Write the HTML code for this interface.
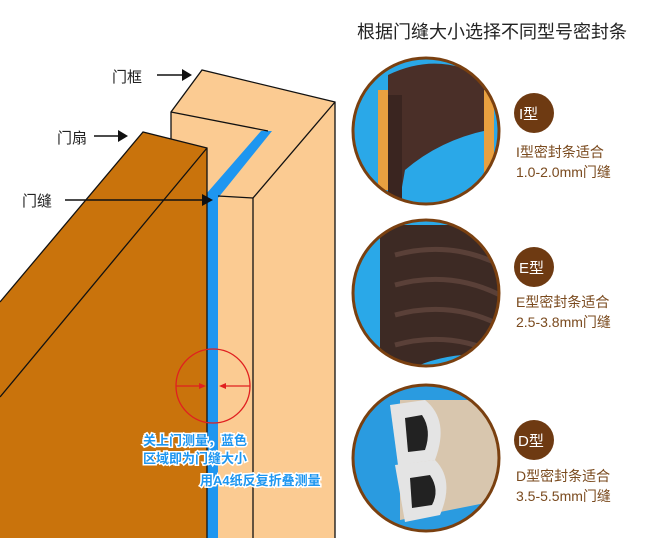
<!DOCTYPE html>
<html><head><meta charset="utf-8"><style>
html,body{margin:0;padding:0;background:#fff;}
svg{display:block;}
text{font-family:"Liberation Sans","Noto Sans CJK SC",sans-serif;}
</style></head><body>
<svg width="665" height="538" viewBox="0 0 665 538" xmlns="http://www.w3.org/2000/svg">
<defs>
<clipPath id="c1"><circle cx="426" cy="131" r="73"/></clipPath>
<clipPath id="c2"><circle cx="426" cy="293" r="73"/></clipPath>
<clipPath id="c3"><circle cx="426" cy="458" r="73"/></clipPath>
</defs>
<rect width="665" height="538" fill="#fff"/>
<polygon points="171,112 202,70 335,102 335,538 171,538" fill="#FBCB92"/>
<polygon points="207,193 261,131 272,131 218,198 218,538 207,538" fill="#1E96F0"/>
<g stroke="#111" stroke-width="1.3" fill="none">
<polyline points="171,140 171,112 202,70 335,102 335,538"/>
<line x1="335" y1="102" x2="253" y2="198"/>
<line x1="253" y1="198" x2="253" y2="538"/>
<line x1="218" y1="196" x2="253" y2="198"/>
<line x1="171" y1="112" x2="268" y2="131"/>
</g>
<polygon points="143,132 207,148 207,538 0,538 0,302" fill="#C9730C"/>
<g stroke="#111" stroke-width="1.3" fill="none">
<polyline points="0,302 143,132 207,148 207,538"/>
<line x1="207" y1="148" x2="0" y2="397"/>
</g>
<g font-size="15" fill="#222">
<text x="112" y="82">门框</text>
<text x="57" y="143">门扇</text>
<text x="22" y="206">门缝</text>
</g>
<g stroke="#111" stroke-width="1.5">
<line x1="157" y1="75" x2="184" y2="75"/><line x1="94" y1="136" x2="120" y2="136"/><line x1="65" y1="200" x2="204" y2="200"/>
</g>
<g fill="#111">
<polygon points="192,75 182,69 182,81"/><polygon points="128,136 118,130 118,142"/><polygon points="213,200 202,194 202,206"/>
</g>
<circle cx="213" cy="386" r="37" fill="none" stroke="#e02020" stroke-width="1.3"/>
<g stroke="#e02020" stroke-width="1.2"><line x1="176" y1="386" x2="203" y2="386"/><line x1="222" y1="386" x2="250" y2="386"/></g>
<polygon points="206,386 199,383 199,389" fill="#e02020"/><polygon points="219,386 226,383 226,389" fill="#e02020"/>
<g font-size="13" fill="#1E96F0" stroke="#fff" stroke-width="3" paint-order="stroke" font-weight="bold">
<text x="143" y="445">关上门测量，蓝色</text>
<text x="143" y="463">区域即为门缝大小</text>
<text x="200" y="485">用A4纸反复折叠测量</text>
</g>
<text x="357" y="38" font-size="18" fill="#222">根据门缝大小选择不同型号密封条</text>
<g clip-path="url(#c1)">
<rect x="350" y="55" width="160" height="160" fill="#2AA8E8"/>
<path d="M388,75 Q440,50 488,80 L488,130 Q440,140 405,170 L398,210 L388,210 Z" fill="#4a2f28"/>
<rect x="388" y="95" width="14" height="115" fill="#3a2520"/>
<rect x="378" y="90" width="10" height="100" fill="#E8A040"/>
<rect x="484" y="90" width="10" height="90" fill="#E8A040"/>
</g>
<circle cx="426" cy="131" r="73" fill="none" stroke="#7a4010" stroke-width="3"/>
<g clip-path="url(#c2)">
<rect x="350" y="215" width="160" height="160" fill="#2AA8E8"/>
<path d="M380,225 L500,225 L500,355 Q440,350 400,375 L380,375 Z" fill="#3d2a24"/>
<g stroke="#5a4038" stroke-width="5" fill="none">
<path d="M395,255 Q450,240 500,265"/><path d="M395,285 Q450,270 500,295"/><path d="M395,315 Q450,300 500,325"/><path d="M395,345 Q450,330 500,355"/>
</g>
</g>
<circle cx="426" cy="293" r="73" fill="none" stroke="#7a4010" stroke-width="3"/>
<g clip-path="url(#c3)">
<rect x="350" y="383" width="160" height="160" fill="#2A9BE0"/>
<path d="M400,400 L500,400 L500,500 L400,520 Z" fill="#D8C6AE"/>
<path d="M390,405 L425,400 Q450,420 435,460 L398,465 Z" fill="#e4e4e4"/>
<path d="M405,418 L422,415 Q432,430 425,450 L408,452 Z" fill="#222"/>
<path d="M395,465 L435,460 Q455,480 440,515 L405,522 Z" fill="#e4e4e4"/>
<path d="M410,478 L430,475 Q440,490 432,505 L412,508 Z" fill="#222"/>
</g>
<circle cx="426" cy="458" r="73" fill="none" stroke="#7a4010" stroke-width="3"/>
<g fill="#6E3A12">
<circle cx="534" cy="113" r="20"/><circle cx="534" cy="267" r="20"/><circle cx="534" cy="440" r="20"/>
</g>
<g font-size="15" fill="#fff">
<text x="519" y="119">I型</text><text x="519" y="273">E型</text><text x="518" y="446">D型</text>
</g>
<g font-size="14" fill="#7a4a1e">
<text x="516" y="157">I型密封条适合</text><text x="516" y="177">1.0-2.0mm门缝</text>
<text x="516" y="307">E型密封条适合</text><text x="516" y="327">2.5-3.8mm门缝</text>
<text x="516" y="481">D型密封条适合</text><text x="516" y="501">3.5-5.5mm门缝</text>
</g>
</svg>
</body></html>
